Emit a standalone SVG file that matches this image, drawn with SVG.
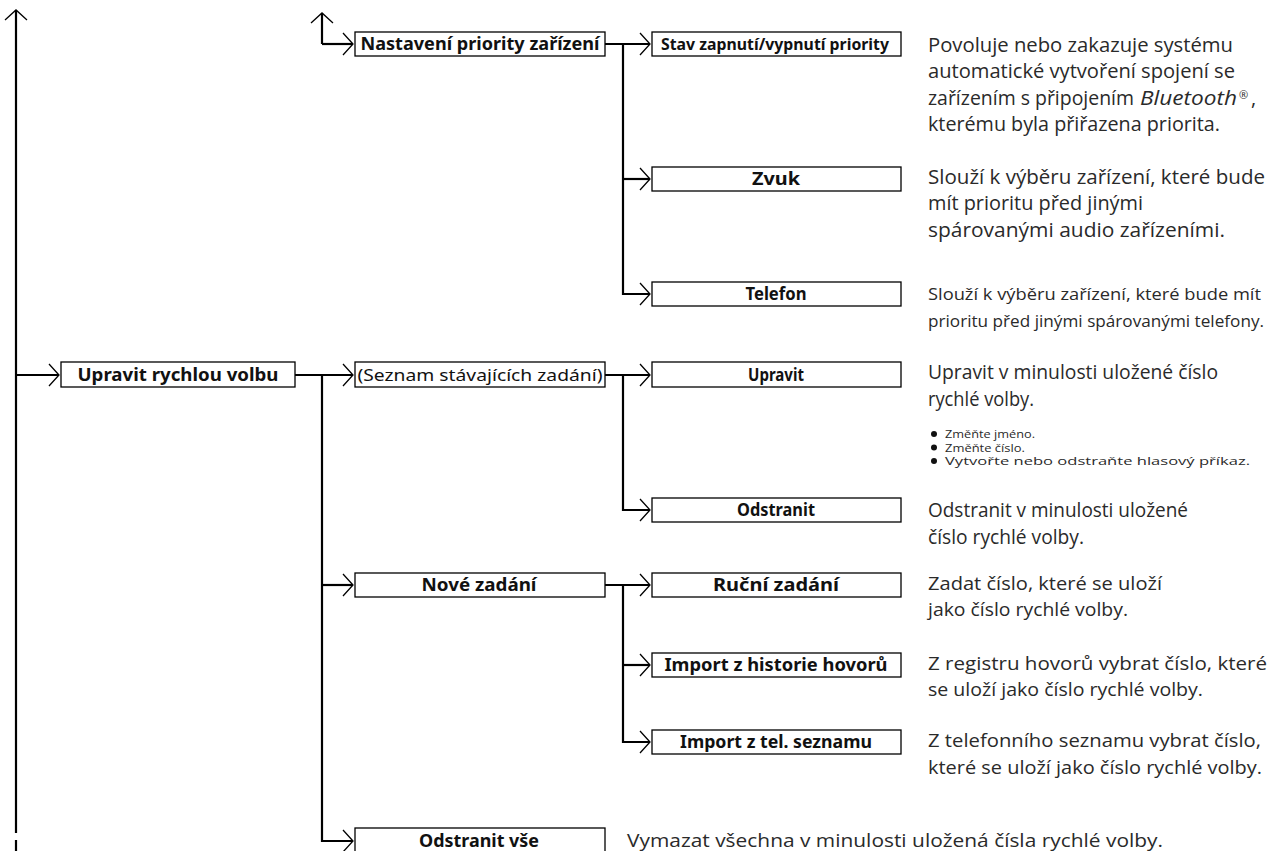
<svg xmlns="http://www.w3.org/2000/svg" width="1269" height="851" viewBox="0 0 1269 851">
<style>
.box{fill:#fff;stroke:#000;stroke-width:1.3}
.lbl{font-family:"Noto Sans","Open Sans",sans-serif;font-weight:bold;font-size:17px;fill:#111;text-anchor:middle}
.lblr{font-family:"Noto Sans","Open Sans",sans-serif;font-size:17px;fill:#111;text-anchor:middle}
.d{font-family:"Open Sans","Noto Sans",sans-serif;font-size:20px;fill:#2a2a2a}
.dc{font-family:"Open Sans","Noto Sans",sans-serif;font-size:19px;fill:#2a2a2a}
.dt{font-family:"Open Sans","Noto Sans",sans-serif;font-size:17px;fill:#2a2a2a}
.ds{font-family:"Open Sans","Noto Sans",sans-serif;font-size:11.5px;fill:#2a2a2a}
.sm{font-family:"Open Sans","Noto Sans",sans-serif;font-size:11px;fill:#2a2a2a}
.lbls{font-family:"Noto Sans","Open Sans",sans-serif;font-weight:bold;font-size:15.5px;fill:#111;text-anchor:middle}
.c{fill:none;stroke:#000;stroke-width:2.2}
.ca{fill:none;stroke:#000;stroke-width:2.2;marker-end:url(#chev)}
</style>
<defs>
<marker id="chev" markerUnits="userSpaceOnUse" viewBox="-1 -1 13 24" refX="10" refY="11" markerWidth="13" markerHeight="24" orient="auto">
<path d="M0,0 L10,11 L0,22" fill="none" stroke="#000" stroke-width="1.3"/>
</marker>
</defs>
<g id="connectors">
<path class="ca" d="M16,833 V10"/>
<path class="c" d="M16,840 V851"/>
<path class="ca" d="M322,44 V13"/>
<path class="ca" d="M322,44 H353"/>
<path class="ca" d="M16,375 H59"/>
<path class="ca" d="M295,375 H353"/>
<path class="ca" d="M322,375 V841 H353"/>
<path class="ca" d="M322,585 H353"/>
<path class="ca" d="M605,44 H650"/>
<path class="ca" d="M623,44 V294 H650"/>
<path class="ca" d="M623,179 H650"/>
<path class="ca" d="M605,375 H650"/>
<path class="ca" d="M623,375 V510 H650"/>
<path class="ca" d="M605,585 H650"/>
<path class="ca" d="M623,585 V742 H650"/>
<path class="ca" d="M623,665 H650"/>
</g>
<g id="n-nastaveni"><rect class="box" x="355" y="32" width="250" height="24"/><text class="lbl" x="480" y="50" textLength="239" lengthAdjust="spacingAndGlyphs">Nastavení priority zařízení</text></g>
<g id="n-stav"><rect class="box" x="652" y="32" width="249" height="24"/><text class="lbls" x="775" y="49.5" textLength="228" lengthAdjust="spacingAndGlyphs">Stav zapnutí/vypnutí priority</text></g>
<g id="n-zvuk"><rect class="box" x="652" y="167" width="249" height="24"/><text class="lbl" x="776" y="185" textLength="48" lengthAdjust="spacingAndGlyphs">Zvuk</text></g>
<g id="n-telefon"><rect class="box" x="652" y="282" width="249" height="24"/><text class="lbl" x="776" y="300" textLength="61" lengthAdjust="spacingAndGlyphs">Telefon</text></g>
<g id="n-upravit-rv"><rect class="box" x="61" y="362" width="234" height="25"/><text class="lbl" x="178" y="380.5" textLength="201" lengthAdjust="spacingAndGlyphs">Upravit rychlou volbu</text></g>
<g id="n-seznam"><rect class="box" x="355" y="362" width="250" height="25"/><text class="lblr" x="480" y="380.5" textLength="245" lengthAdjust="spacingAndGlyphs">(Seznam stávajících zadání)</text></g>
<g id="n-upravit"><rect class="box" x="652" y="362" width="249" height="25"/><text class="lbl" x="776" y="380.5" textLength="56" lengthAdjust="spacingAndGlyphs">Upravit</text></g>
<g id="n-odstranit"><rect class="box" x="652" y="498" width="249" height="24"/><text class="lbl" x="776" y="516" textLength="78" lengthAdjust="spacingAndGlyphs">Odstranit</text></g>
<g id="n-nove"><rect class="box" x="355" y="573" width="250" height="24"/><text class="lbl" x="479" y="591" textLength="115" lengthAdjust="spacingAndGlyphs">Nové zadání</text></g>
<g id="n-rucni"><rect class="box" x="652" y="573" width="249" height="24"/><text class="lbl" x="776" y="591" textLength="126" lengthAdjust="spacingAndGlyphs">Ruční zadání</text></g>
<g id="n-import-h"><rect class="box" x="652" y="653" width="249" height="24"/><text class="lbl" x="776" y="671" textLength="223" lengthAdjust="spacingAndGlyphs">Import z historie hovorů</text></g>
<g id="n-import-t"><rect class="box" x="652" y="730" width="249" height="24"/><text class="lbl" x="776" y="748" textLength="192" lengthAdjust="spacingAndGlyphs">Import z tel. seznamu</text></g>
<g id="n-odstranit-vse"><rect class="box" x="355" y="828" width="250" height="25"/><text class="lbl" x="479" y="846.5" textLength="120" lengthAdjust="spacingAndGlyphs">Odstranit vše</text></g>
<g id="descriptions">
<text class="d" x="928" y="52" textLength="305" lengthAdjust="spacingAndGlyphs">Povoluje nebo zakazuje systému</text>
<text class="d" x="928" y="78" textLength="307" lengthAdjust="spacingAndGlyphs">automatické vytvoření spojení se</text>
<text class="d" x="928" y="105" textLength="206" lengthAdjust="spacingAndGlyphs">zařízením s připojením</text>
<text class="d" x="1140" y="105" font-style="italic" textLength="97" lengthAdjust="spacingAndGlyphs">Bluetooth</text>
<text class="sm" x="1239" y="99">®</text>
<text class="d" x="1251" y="105">,</text>
<text class="d" x="928" y="131" textLength="292" lengthAdjust="spacingAndGlyphs">kterému byla přiřazena priorita.</text>
<text class="d" x="928" y="184" textLength="337" lengthAdjust="spacingAndGlyphs">Slouží k výběru zařízení, které bude</text>
<text class="d" x="928" y="210" textLength="215" lengthAdjust="spacingAndGlyphs">mít prioritu před jinými</text>
<text class="d" x="928" y="237" textLength="297" lengthAdjust="spacingAndGlyphs">spárovanými audio zařízeními.</text>
<text class="dt" x="928" y="300" textLength="333" lengthAdjust="spacingAndGlyphs">Slouží k výběru zařízení, které bude mít</text>
<text class="dt" x="928" y="327" textLength="336" lengthAdjust="spacingAndGlyphs">prioritu před jinými spárovanými telefony.</text>
<text class="d" x="928" y="379" textLength="290" lengthAdjust="spacingAndGlyphs">Upravit v minulosti uložené číslo</text>
<text class="d" x="928" y="406" textLength="106" lengthAdjust="spacingAndGlyphs">rychlé volby.</text>
<circle cx="934" cy="434" r="3" fill="#111"/>
<circle cx="934" cy="447.5" r="3" fill="#111"/>
<circle cx="934" cy="461" r="3" fill="#111"/>
<text class="ds" x="945" y="438" textLength="90" lengthAdjust="spacingAndGlyphs">Změňte jméno.</text>
<text class="ds" x="945" y="451.5" textLength="80" lengthAdjust="spacingAndGlyphs">Změňte číslo.</text>
<text class="ds" x="945" y="465" textLength="305" lengthAdjust="spacingAndGlyphs">Vytvořte nebo odstraňte hlasový příkaz.</text>
<text class="d" x="928" y="517" textLength="260" lengthAdjust="spacingAndGlyphs">Odstranit v minulosti uložené</text>
<text class="d" x="928" y="544" textLength="156" lengthAdjust="spacingAndGlyphs">číslo rychlé volby.</text>
<text class="dc" x="928" y="590" textLength="234" lengthAdjust="spacingAndGlyphs">Zadat číslo, které se uloží</text>
<text class="dc" x="928" y="616" textLength="200" lengthAdjust="spacingAndGlyphs">jako číslo rychlé volby.</text>
<text class="dc" x="928" y="670" textLength="339" lengthAdjust="spacingAndGlyphs">Z registru hovorů vybrat číslo, které</text>
<text class="dc" x="928" y="696" textLength="275" lengthAdjust="spacingAndGlyphs">se uloží jako číslo rychlé volby.</text>
<text class="dc" x="928" y="747" textLength="333" lengthAdjust="spacingAndGlyphs">Z telefonního seznamu vybrat číslo,</text>
<text class="dc" x="928" y="774" textLength="334" lengthAdjust="spacingAndGlyphs">které se uloží jako číslo rychlé volby.</text>
<text class="dc" x="627" y="847" textLength="536" lengthAdjust="spacingAndGlyphs">Vymazat všechna v minulosti uložená čísla rychlé volby.</text>
</g>
</svg>
